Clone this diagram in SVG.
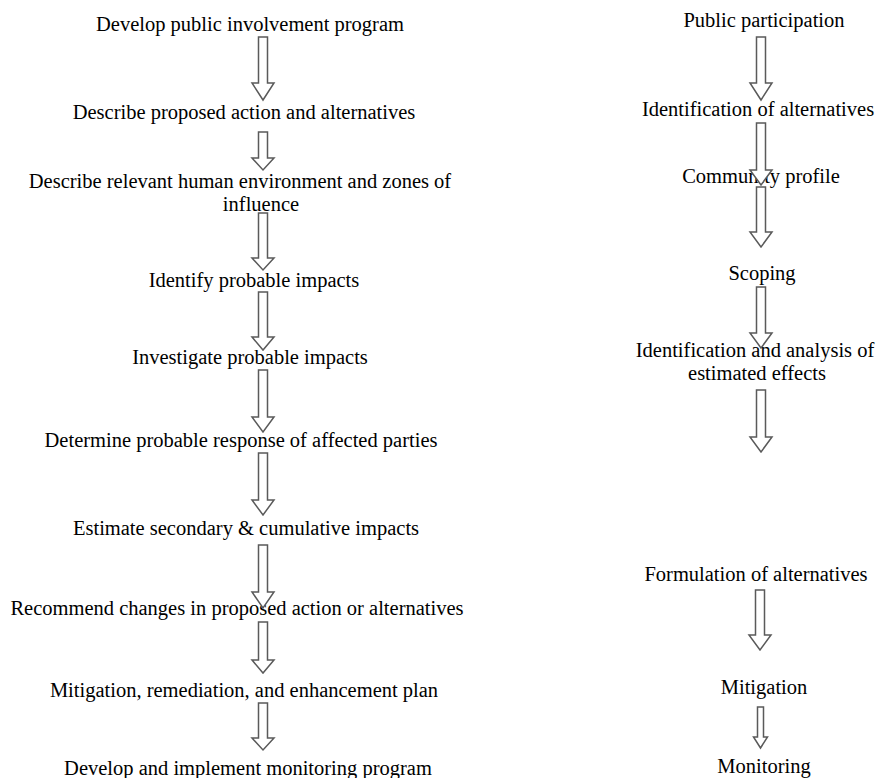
<svg xmlns="http://www.w3.org/2000/svg" width="875" height="778" viewBox="0 0 875 778">
<style>
text{font-family:"Liberation Serif","Times New Roman",serif;font-size:20.5px;fill:#000;text-anchor:middle}
.arr{fill:#fff;stroke:#5a5a5a;stroke-width:1.5;stroke-linejoin:miter}
</style>
<rect width="875" height="778" fill="#fff"/>
<g id="nodes" font-family="Liberation Serif, serif">
<g id="l1"><text x="250" y="31">Develop public involvement program</text></g>
<g id="l2"><text x="244" y="119">Describe proposed action and alternatives</text></g>
<g id="l3"><text x="240" y="188">Describe relevant human environment and zones of</text><text x="261" y="211">influence</text></g>
<g id="l4"><text x="254" y="287">Identify probable impacts</text></g>
<g id="l5"><text x="250" y="364">Investigate probable impacts</text></g>
<g id="l6"><text x="241" y="447">Determine probable response of affected parties</text></g>
<g id="l7"><text x="246" y="535">Estimate secondary &amp; cumulative impacts</text></g>
<g id="l8"><text x="237" y="615">Recommend changes in proposed action or alternatives</text></g>
<g id="l9"><text x="244" y="697">Mitigation, remediation, and enhancement plan</text></g>
<g id="l10"><text x="248" y="775">Develop and implement monitoring program</text></g>
<g id="r1"><text x="764" y="27">Public participation</text></g>
<g id="r2"><text x="758" y="116">Identification of alternatives</text></g>
<g id="r3"><text x="761" y="183">Community profile</text></g>
<g id="r4"><text x="762" y="280">Scoping</text></g>
<g id="r5"><text x="755" y="357">Identification and analysis of</text><text x="757" y="380">estimated effects</text></g>
<g id="r6"><text x="756" y="581">Formulation of alternatives</text></g>
<g id="r7"><text x="764" y="694">Mitigation</text></g>
<g id="r8"><text x="764" y="773">Monitoring</text></g>
</g>
<g id="connectors">
<path class="arr" d="M258.5 37H267.5V83H274L263 100L252 83H258.5Z"/>
<path class="arr" d="M258.5 132H267.5V158H274L263 170L252 158H258.5Z"/>
<path class="arr" d="M258.5 213H267.5V258H274L263 270L252 258H258.5Z"/>
<path class="arr" d="M258.5 292H267.5V337H274L263 350L252 337H258.5Z"/>
<path class="arr" d="M258.5 370H267.5V417H274L263 432L252 417H258.5Z"/>
<path class="arr" d="M258.5 453H267.5V500H274L263 515L252 500H258.5Z"/>
<path class="arr" d="M258.5 545H267.5V592H274L263 608L252 592H258.5Z"/>
<path class="arr" d="M258.5 622H267.5V660H274L263 673L252 660H258.5Z"/>
<path class="arr" d="M258.5 703H267.5V738H274L263 750L252 738H258.5Z"/>
<path class="arr" d="M756.5 37H765.5V83H772L761 100L750 83H756.5Z"/>
<path class="arr" d="M756.5 123H765.5V170H772L761 185L750 170H756.5Z"/>
<path class="arr" d="M756.5 187H765.5V232H772L761 247L750 232H756.5Z"/>
<path class="arr" d="M756.5 287H765.5V333H772L761 348L750 333H756.5Z"/>
<path class="arr" d="M756.5 390H765.5V437H772L761 452L750 437H756.5Z"/>
<path class="arr" d="M755.5 590H764.5V635H771L760 650L749 635H755.5Z"/>
<path class="arr" d="M757.5 707H763.5V737H767.5L760.5 748L753.5 737H757.5Z"/>
</g>
</svg>
